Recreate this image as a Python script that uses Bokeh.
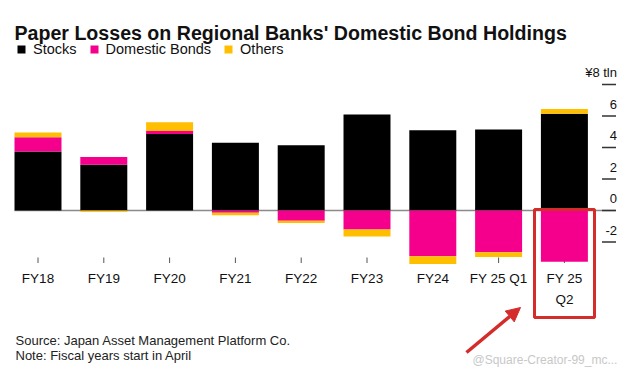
import numpy as np
import pandas as pd
from bokeh.plotting import figure
from bokeh.core.properties import value
from bokeh.models import (ColumnDataSource, Range1d, Legend, LegendItem,
                          Label, LabelSet, BoxAnnotation, Arrow, NormalHead)
from bokeh.embed import file_html
from bokeh.resources import INLINE

# ---------------- data ----------------
categories = ["FY18", "FY19", "FY20", "FY21", "FY22", "FY23", "FY24", "FY 25 Q1", "FY 25 Q2"]
tick_labels = ["FY18", "FY19", "FY20", "FY21", "FY22", "FY23", "FY24", "FY 25 Q1", "FY 25\nQ2"]
stocks = [3.75, 2.9, 4.85, 4.3, 4.15, 6.1, 5.1, 5.15, 6.15]
domestic_bonds = [0.9, 0.5, 0.2, -0.15, -0.65, -1.2, -2.9, -2.65, -3.25]
others = [0.3, -0.08, 0.55, -0.15, -0.15, -0.45, -0.5, -0.3, 0.3]
y_ticks = [-2, 0, 2, 4, 6, 8]
y_tick_labels = ["-2", "0", "2", "4", "6", "¥8 tln"]

series = [("Stocks", stocks, "#000000"),
          ("Domestic Bonds", domestic_bonds, "#f5008c"),
          ("Others", others, "#ffbe00")]

# ---------------- layout constants (picture px) ----------------
W, H = 624, 367
PX_X = 65.8      # px per category
PX_Y = 15.75     # px per unit
X0_PAGE = 37.5   # centre of first category
Y0_PAGE = 210.0  # zero line
BAR_W = 0.714
FONT = "Liberation Sans"

def xpx(px):
    return (px - X0_PAGE) / PX_X

def ypx(py):
    return (Y0_PAGE - py) / PX_Y

x_start, x_end = xpx(0), xpx(W)
y_start, y_end = ypx(H), ypx(0)

p = figure(width=W, height=H, output_backend="svg", toolbar_location=None,
           title=None, x_range=Range1d(x_start, x_end), y_range=Range1d(y_start, y_end),
           x_axis_location=None, y_axis_location=None,
           min_border_left=0, min_border_right=0, min_border_top=0, min_border_bottom=0)
p.outline_line_color = None
p.grid.visible = False
p.background_fill_color = "white"
p.border_fill_color = "white"

idx = np.arange(len(categories))

# category ticks (under the bars)
p.segment(x0=idx, y0=[ypx(257)] * len(idx), x1=idx, y1=[ypx(262.5)] * len(idx),
          line_color="#555555", line_width=1)

# zero line
p.segment(x0=[idx[0] - BAR_W / 2], y0=[0], x1=[xpx(615)], y1=[0],
          line_color="#8a8a8a", line_width=1.5)

# stacked bars: positives upward, negatives downward
pos_base = np.zeros(len(categories))
neg_base = np.zeros(len(categories))
renderers = []
for name, vals, color in series:
    v = np.array(vals, dtype=float)
    bottom = np.where(v >= 0, pos_base, neg_base + v)
    top = np.where(v >= 0, pos_base + v, neg_base)
    pos_base = np.where(v >= 0, pos_base + v, pos_base)
    neg_base = np.where(v < 0, neg_base + v, neg_base)
    src = ColumnDataSource(pd.DataFrame({"x": idx, "top": top, "bottom": bottom}))
    r = p.vbar(x="x", top="top", bottom="bottom", width=BAR_W, source=src,
               fill_color=color, line_color=None)
    renderers.append((name, r))

# category labels
xl_src = ColumnDataSource(dict(x=idx, y=[ypx(270)] * len(idx), text=tick_labels))
p.text(x="x", y="y", text="text", source=xl_src, text_align="center", text_baseline="top",
       text_font=value(FONT), text_font_size=value("13.5px"),
       text_color="#111111", text_line_height=1.4)

# value-axis dashes and labels (right side)
p.segment(x0=[xpx(601.5)] * len(y_ticks), y0=y_ticks, x1=[xpx(615.5)] * len(y_ticks), y1=y_ticks,
          line_color="#333333", line_width=1.5)
lab_src = ColumnDataSource(dict(y=y_ticks, text=y_tick_labels, x=[xpx(616.5)] * len(y_ticks)))
p.add_layout(LabelSet(x="x", y="y", text="text", source=lab_src, y_offset=12,
                      text_align="right", text_baseline="middle",
                      text_font=value(FONT), text_font_size=value("13px"), text_color="#111111"))

# legend
legend = Legend(items=[LegendItem(label=n, renderers=[r]) for n, r in renderers],
                orientation="horizontal", location=(16, H - 57),
                glyph_width=10, glyph_height=10, label_height=14, label_standoff=7,
                spacing=12, padding=0, margin=0, border_line_color=None,
                background_fill_alpha=0, label_text_font=FONT,
                label_text_font_size="14.5px", label_text_color="#111111")
p.add_layout(legend)

# title
p.add_layout(Label(x=xpx(14), y=ypx(32), text="Paper Losses on Regional Banks' Domestic Bond Holdings",
                   text_font=FONT, text_font_style="bold", text_font_size="19.6px",
                   text_baseline="alphabetic", text_color="#111111"))

# footnotes
p.add_layout(Label(x=xpx(15), y=ypx(340), text="Source: Japan Asset Management Platform Co.",
                   text_font=FONT, text_font_size="13px", text_baseline="middle",
                   text_color="#222222"))
p.add_layout(Label(x=xpx(15), y=ypx(355), text="Note: Fiscal years start in April",
                   text_font=FONT, text_font_size="13px", text_baseline="middle",
                   text_color="#222222"))
p.add_layout(Label(x=xpx(472), y=ypx(359), text="@Square-Creator-99_mc...",
                   text_font=FONT, text_font_size="12px", text_baseline="middle",
                   text_color="#c8c8c8"))

# highlight box and arrow
p.add_layout(BoxAnnotation(left=xpx(534), right=xpx(594), top=ypx(209), bottom=ypx(317),
                           fill_alpha=0, line_color="#d42b2b", line_alpha=1.0, line_width=3))
p.add_layout(Arrow(x_start=xpx(466), y_start=ypx(352), x_end=xpx(520), y_end=ypx(307),
                   line_color="#d42b2b", line_width=3.5,
                   end=NormalHead(size=14, fill_color="#d42b2b", line_color="#d42b2b")))

open("out.html", "w").write(file_html(p, INLINE))
